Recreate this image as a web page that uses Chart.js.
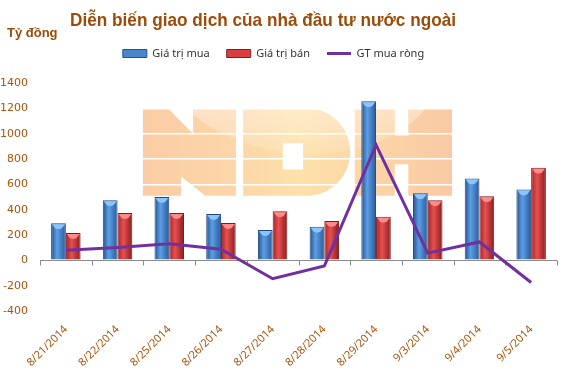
<!DOCTYPE html>
<html lang="vi">
<head>
<meta charset="UTF-8" />
<title>Diễn biến giao dịch của nhà đầu tư nước ngoài</title>
<script src="https://cdn.jsdelivr.net/npm/chart.js"></script>
<style>
  * { margin: 0; padding: 0; box-sizing: border-box; }
  body { background: #fff; width: 564px; height: 377px; overflow: hidden; }
  canvas { display: block; }
</style>
</head>
<body>
<canvas id="chart" width="564" height="377"></canvas>
<script>
  // data (tỷ đồng)
  const labels = ['8/21/2014', '8/22/2014', '8/25/2014', '8/26/2014', '8/27/2014',
                  '8/28/2014', '8/29/2014', '9/3/2014', '9/4/2014', '9/5/2014'];
  const buyValues  = [292, 475, 500, 365, 240, 266, 1256, 529, 647, 560];
  const sellValues = [216, 373, 373, 295, 388, 310, 344, 475, 506, 730];
  const netValues  = [80, 102, 130, 88, -145, -45, 912, 57, 145, -175];
  const yTicks = [-400, -200, 0, 200, 400, 600, 800, 1000, 1200, 1400];

  const brown = '#a8540a';
  const catPct = 0.57;

  function barFill(stops, side) {
    return (c) => {
      const chart = c.chart;
      const xs = chart.scales.x;
      if (!xs || c.dataIndex == null || !chart.chartArea) return stops[1];
      const cx = xs.getPixelForValue(c.dataIndex);
      const w = (xs.width / labels.length) * catPct / 2;
      const x0 = side < 0 ? cx - w : cx;
      const g = chart.ctx.createLinearGradient(x0, 0, x0 + w, 0);
      g.addColorStop(0, stops[0]);
      g.addColorStop(0.4, stops[1]);
      g.addColorStop(1, stops[2]);
      return g;
    };
  }

  // blocky "NDH" logo behind the plot, each letter in a unit box
  function logoPath(ctx, a) {
    const w = a.right - a.left;
    const top = a.top + (a.bottom - a.top) * (200 / 1800);
    const bot = a.top + (a.bottom - a.top) * (890 / 1800);
    const h = bot - top;
    const box = (l, r) => [a.left + w * l, a.left + w * r];
    const poly = (b, pts) => {
      const bw = b[1] - b[0];
      pts.forEach((p, i) => {
        const x = b[0] + p[0] * bw, y = top + p[1] * h;
        i ? ctx.lineTo(x, y) : ctx.moveTo(x, y);
      });
      ctx.closePath();
    };
    const n = box(0.199, 0.379);
    poly(n, [[0, 0], [0.27, 0], [0.54, 0.29], [0.54, 0], [1, 0], [1, 1], [0.67, 1],
             [0.41, 0.78], [0.41, 1], [0, 1]]);
    const d = box(0.393, 0.6);
    const dw = d[1] - d[0];
    const X = f => d[0] + dw * f, Y = f => top + h * f;
    ctx.moveTo(X(0), Y(0));
    ctx.lineTo(X(0.6), Y(0));
    ctx.bezierCurveTo(X(0.82), Y(0), X(1), Y(0.225), X(1), Y(0.5));
    ctx.bezierCurveTo(X(1), Y(0.775), X(0.82), Y(1), X(0.6), Y(1));
    ctx.lineTo(X(0), Y(1));
    ctx.closePath();
    poly(d, [[0.37, 0.4], [0.37, 0.7], [0.56, 0.7], [0.56, 0.4]]);
    const hh = box(0.609, 0.797);
    poly(hh, [[0, 0], [0.41, 0], [0.41, 0.31], [0.55, 0.31], [0.55, 0], [1, 0], [1, 1],
              [0.55, 1], [0.55, 0.64], [0.41, 0.64], [0.41, 1], [0, 1]]);
  }

  const decor = {
    id: 'decor',
    beforeLayout(chart) {
      const lg = chart.legend;
      if (lg && !lg._padded) {
        const fit = lg.fit;
        lg.fit = function () { fit.call(this); this.height += 14; };
        lg._padded = true;
      }
    },
    afterLayout(chart) {
      if (chart.legend) { chart.legend.left -= 5; chart.legend.right -= 5; }
    },
    beforeDraw(chart) {
      const { ctx, chartArea: a } = chart;
      const w = a.right - a.left;
      ctx.save();
      ctx.beginPath();
      logoPath(ctx, a);
      const g = ctx.createLinearGradient(a.left + w * 0.2, 0, a.left + w * 0.8, 0);
      g.addColorStop(0, '#fbcda5');
      g.addColorStop(0.3, '#fcd6a8');
      g.addColorStop(0.5, '#fde1a9');
      g.addColorStop(0.7, '#fcd7a6');
      g.addColorStop(1, '#f9c9a3');
      ctx.fillStyle = g;
      ctx.fill('evenodd');
      ctx.clip('evenodd');
      const sheen = ctx.createLinearGradient(0, a.top + 20, 0, a.top + 80);
      sheen.addColorStop(0, 'rgba(255,255,255,0.4)');
      sheen.addColorStop(1, 'rgba(255,255,255,0.05)');
      ctx.fillStyle = sheen;
      ctx.beginPath();
      ctx.ellipse(a.left + w * 0.5, a.top - 30, w * 0.28, 100, 0.12, 0, Math.PI * 2);
      ctx.fill();
      ctx.restore();

      ctx.save();
      ctx.fillStyle = '#9c4c08';
      ctx.textBaseline = 'alphabetic';
      ctx.font = 'bold 19px "Liberation Sans", Arial, sans-serif';
      ctx.fillText('Diễn biến giao dịch của nhà đầu tư nước ngoài', 70, 26, 386);
      ctx.font = 'bold 13px "Liberation Sans", Arial, sans-serif';
      ctx.fillText('Tỷ đồng', 7, 37);
      ctx.restore();
    },
    beforeDatasetsDraw(chart) {
      const { ctx, chartArea: a } = chart;
      const y0 = Math.round(chart.scales.y.getPixelForValue(0)) + 0.5;
      const step = (a.right - a.left) / labels.length;
      ctx.save();
      ctx.strokeStyle = '#8c8c8c';
      ctx.lineWidth = 1;
      ctx.beginPath();
      ctx.moveTo(a.left, y0);
      ctx.lineTo(a.right, y0);
      for (let i = 0; i <= labels.length; i++) {
        const x = Math.round(a.left + i * step) + 0.5;
        ctx.moveTo(x, y0);
        ctx.lineTo(x, y0 + 5);
      }
      ctx.stroke();
      ctx.restore();
    },
    afterDatasetDraw(chart, args) {
      // lighter bevel on top of each bar
      const caps = ['#8cc4ff', '#ff8a8a'];
      if (args.index > 1) return;
      const ctx = chart.ctx;
      ctx.save();
      ctx.fillStyle = caps[args.index];
      args.meta.data.forEach(el => {
        const l = el.x - el.width / 2 + 1, r = el.x + el.width / 2 - 1;
        ctx.beginPath();
        ctx.moveTo(l, el.y + 1);
        ctx.lineTo(r, el.y + 1);
        ctx.lineTo(r - 3, el.y + 5);
        ctx.lineTo(el.x, el.y + 6);
        ctx.lineTo(l + 3, el.y + 5);
        ctx.closePath();
        ctx.fill();
      });
      ctx.restore();
    }
  };

  new Chart(document.getElementById('chart'), {
    data: {
      labels: labels,
      datasets: [
        {
          type: 'bar', label: 'Giá trị mua', data: buyValues, order: 1,
          backgroundColor: barFill(['#24528e', '#5d9ee6', '#2a5a98'], -1),
          borderColor: '#1e4a80', borderWidth: 1,
          categoryPercentage: catPct, barPercentage: 1, pointStyle: 'rect'
        },
        {
          type: 'bar', label: 'Giá trị bán', data: sellValues, order: 1,
          backgroundColor: barFill(['#a82424', '#e65050', '#8c1c1c'], 1),
          borderColor: '#7c1a1a', borderWidth: 1,
          categoryPercentage: catPct, barPercentage: 1, pointStyle: 'rect'
        },
        {
          type: 'line', label: 'GT mua ròng', data: netValues, order: 0,
          borderColor: '#7030a0', borderWidth: 3, pointRadius: 0,
          tension: 0, fill: false, pointStyle: 'line'
        }
      ]
    },
    options: {
      responsive: false,
      animation: false,
      layout: { padding: { top: 31, left: 0, right: 7, bottom: 0 } },
      plugins: {
        title: { display: false },
        tooltip: { enabled: false },
        legend: {
          position: 'top',
          labels: {
            usePointStyle: true,
            pointStyleWidth: 24,
            boxHeight: 8,
            padding: 17,
            color: '#333',
            font: { family: '"Noto Sans", sans-serif', size: 11 },
            sort: (a, b) => a.datasetIndex - b.datasetIndex,
            generateLabels(chart) {
              const items = Chart.defaults.plugins.legend.labels.generateLabels(chart);
              const fills = ['#4a86cc', '#d84040', '#7030a0'];
              const strokes = ['#24528e', '#8c1c1c', '#7030a0'];
              items.forEach(it => {
                const i = it.datasetIndex;
                it.fillStyle = fills[i];
                it.strokeStyle = strokes[i];
                it.lineWidth = i === 2 ? 3 : 1;
                it.pointStyle = i === 2 ? 'line' : 'rect';
              });
              return items;
            }
          }
        }
      },
      scales: {
        x: {
          grid: { display: false, drawTicks: false },
          border: { display: false },
          ticks: {
            color: brown, maxRotation: 45, minRotation: 45, padding: 12,
            font: { family: '"Noto Sans", sans-serif', size: 11 }
          },
          afterFit(scale) { scale.height = 66; }
        },
        y: {
          min: -400, max: 1400,
          afterBuildTicks(scale) { scale.ticks = yTicks.map(v => ({ value: v })); },
          grid: { color: '#ffffff', lineWidth: 1.5, drawTicks: false },
          border: { display: false },
          ticks: {
            color: brown, padding: 12,
            font: { family: '"DejaVu Sans", sans-serif', size: 11 },
            callback: v => String(v)
          },
          afterFit(scale) { scale.width = 40; }
        }
      }
    },
    plugins: [decor]
  });
</script>
</body>
</html>
